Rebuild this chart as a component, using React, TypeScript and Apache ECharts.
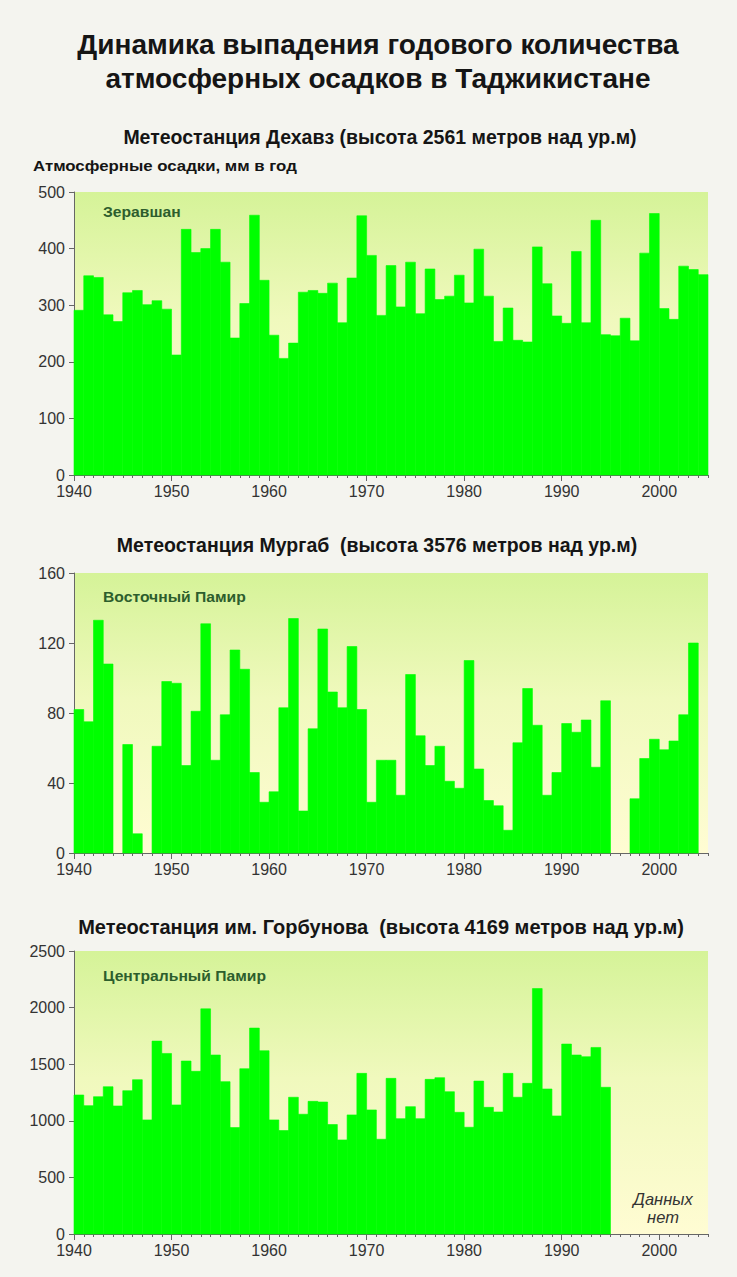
import React, { useEffect, useRef } from "react";
import * as echarts from "echarts";

// ---- Data ----
const TITLE_LINES = ["Динамика выпадения годового количества", "атмосферных осадков в Таджикистане"];
const Y_AXIS_NAME = "Атмосферные осадки, мм в год";
const STATION_TITLES = [
  "Метеостанция Дехавз (высота 2561 метров над ур.м)",
  "Метеостанция Мургаб  (высота 3576 метров над ур.м)",
  "Метеостанция им. Горбунова  (высота 4169 метров над ур.м)",
];
const REGION_LABELS = ["Зеравшан", "Восточный Памир", "Центральный Памир"];
const NO_DATA_LABEL = "Данных\nнет";

const START_YEAR = 1940;
const END_YEAR = 2005;
const DECADE_TICKS = [1940, 1950, 1960, 1970, 1980, 1990, 2000];

// Dekhavz, 1940–2004
const dekhavz: (number | null)[] = [
  291, 352, 349, 283, 271, 322, 326, 301, 308, 293,
  212, 434, 393, 400, 434, 376, 242, 303, 459, 344,
  247, 206, 233, 323, 326, 321, 339, 269, 348, 458,
  388, 282, 370, 297, 376, 285, 364, 310, 316, 353,
  304, 399, 316, 236, 295, 238, 235, 403, 338, 281,
  268, 395, 269, 450, 248, 246, 277, 237, 392, 462,
  294, 275, 369, 363, 354,
];

// Murgab, 1940–2003 (null = no data)
const murgab: (number | null)[] = [
  82, 75, 133, 108, null, 62, 11, null, 61, 98,
  97, 50, 81, 131, 53, 79, 116, 105, 46, 29,
  35, 83, 134, 24, 71, 128, 92, 83, 118, 82,
  29, 53, 53, 33, 102, 67, 50, 61, 41, 37,
  110, 48, 30, 27, 13, 63, 94, 73, 33, 46,
  74, 69, 76, 49, 87, null, null, 31, 54, 65,
  59, 64, 79, 120,
];

// Gorbunov, 1940–1994
const gorbunov: (number | null)[] = [
  1228, 1134, 1213, 1301, 1131, 1266, 1363, 1008, 1704, 1595,
  1140, 1528, 1437, 1989, 1581, 1346, 940, 1460, 1819, 1619,
  1008, 914, 1208, 1058, 1172, 1166, 967, 831, 1052, 1419,
  1096, 837, 1375, 1019, 1125, 1019, 1366, 1381, 1257, 1075,
  943, 1351, 1119, 1078, 1419, 1208, 1331, 2168, 1281, 1043,
  1678, 1581, 1566, 1648, 1296,
];

const Y_MAX = [500, 160, 2500];
const Y_INTERVAL = [100, 40, 500];

const FONT = '"Liberation Sans", Arial, sans-serif';
const GRIDS = [
  { top: 192, height: 283 },
  { top: 573, height: 280 },
  { top: 951, height: 283 },
];
const GRID_LEFT = 74;
const GRID_WIDTH = 634;

function toPairs(vals: (number | null)[]) {
  const out: number[][] = [];
  vals.forEach((v, i) => {
    if (v !== null && v !== undefined) out.push([START_YEAR + i, v]);
  });
  return out;
}

export default function App() {
  const ref = useRef<HTMLDivElement>(null);

  useEffect(() => {
    document.body.style.margin = "0";
    document.body.style.background = "#f4f4ef";
    if (!ref.current) return;
    const chart = echarts.init(ref.current, null, { renderer: "svg" });

    const bg = new echarts.graphic.LinearGradient(0, 0, 0, 1, [
      { offset: 0, color: "#d5f398" },
      { offset: 0.45, color: "#f0f9bd" },
      { offset: 1, color: "#fffcd3" },
    ]);

    const seriesData = [dekhavz, murgab, gorbunov];
    const plain = (v: number) => String(v);

    const grid = GRIDS.map((g) => ({
      left: GRID_LEFT,
      top: g.top,
      width: GRID_WIDTH,
      height: g.height,
      show: true,
      backgroundColor: bg,
      borderWidth: 0,
    }));

    const xAxis: any[] = [];
    const yAxis: any[] = [];
    const series: any[] = [];

    GRIDS.forEach((_, gi) => {
      // yearly ticks + axis line
      xAxis.push({
        type: "value",
        gridIndex: gi,
        min: START_YEAR,
        max: END_YEAR,
        interval: 1,
        position: "bottom",
        axisLine: { show: true, lineStyle: { color: "#666", width: 1 } },
        axisTick: { show: true, length: 3, lineStyle: { color: "#666" } },
        axisLabel: { show: false },
        splitLine: { show: false },
      });
      // decade ticks + labels
      xAxis.push({
        type: "value",
        gridIndex: gi,
        min: START_YEAR,
        max: END_YEAR,
        position: "bottom",
        axisLine: { show: false },
        axisTick: { show: true, length: 6, customValues: DECADE_TICKS, lineStyle: { color: "#666" } },
        axisLabel: {
          show: true,
          customValues: DECADE_TICKS,
          formatter: plain,
          fontSize: 16,
          fontFamily: FONT,
          color: "#333",
          margin: 8,
        },
        splitLine: { show: false },
      });
      yAxis.push({
        type: "value",
        gridIndex: gi,
        min: 0,
        max: Y_MAX[gi],
        interval: Y_INTERVAL[gi],
        axisLine: { show: true, lineStyle: { color: "#666", width: 1 } },
        axisTick: { show: true, length: 5, lineStyle: { color: "#666" } },
        axisLabel: { formatter: plain, fontSize: 16, fontFamily: FONT, color: "#333", margin: 9 },
        splitLine: { show: false },
      });
      series.push({
        type: "custom",
        xAxisIndex: gi * 2,
        yAxisIndex: gi,
        data: toPairs(seriesData[gi]),
        renderItem: (params: any, api: any) => {
          const x = api.value(0);
          const y = api.value(1);
          const p0 = api.coord([x, y]);
          const p1 = api.coord([x + 1, 0]);
          return {
            type: "rect",
            shape: { x: p0[0], y: p0[1], width: p1[0] - p0[0], height: p1[1] - p0[1] },
            style: { fill: "#00ff00", stroke: "#00ff00", lineWidth: 0.6 },
          };
        },
      });
    });

    const textStyle = (text: string, size: number, weight: string, fill: string, align = "center", style = "normal") => ({
      text,
      fill,
      fontSize: size,
      fontWeight: weight,
      fontStyle: style,
      fontFamily: FONT,
      align,
      verticalAlign: "middle",
    });

    const graphic: any[] = [
      { type: "text", x: 378, y: 44, style: textStyle(TITLE_LINES[0], 28, "bold", "#151515") },
      { type: "text", x: 378, y: 78, style: textStyle(TITLE_LINES[1], 28, "bold", "#151515") },
      { type: "text", x: 380, y: 137, style: textStyle(STATION_TITLES[0], 19.5, "bold", "#151515") },
      { type: "text", x: 33, y: 166, scaleX: 1.2, style: textStyle(Y_AXIS_NAME, 14, "bold", "#151515", "left") },
      { type: "text", x: 377, y: 545, style: textStyle(STATION_TITLES[1], 19.5, "bold", "#151515") },
      { type: "text", x: 381, y: 927, style: textStyle(STATION_TITLES[2], 20, "bold", "#151515") },
      { type: "text", x: 103, y: 212, scaleX: 1.12, style: textStyle(REGION_LABELS[0], 14, "bold", "#2d5e2d", "left") },
      { type: "text", x: 103, y: 597, scaleX: 1.12, style: textStyle(REGION_LABELS[1], 14, "bold", "#2d5e2d", "left") },
      { type: "text", x: 103, y: 976, scaleX: 1.12, style: textStyle(REGION_LABELS[2], 14, "bold", "#2d5e2d", "left") },
      {
        type: "text",
        x: 663,
        y: 1208,
        style: { ...textStyle(NO_DATA_LABEL, 16.5, "normal", "#333", "center", "italic"), lineHeight: 18 },
      },
    ];

    chart.setOption({
      animation: false,
      backgroundColor: "#f4f4ef",
      grid,
      xAxis,
      yAxis,
      series,
      graphic,
    });

    return () => chart.dispose();
  }, []);

  return <div ref={ref} style={{ width: 737, height: 1277 }} />;
}
